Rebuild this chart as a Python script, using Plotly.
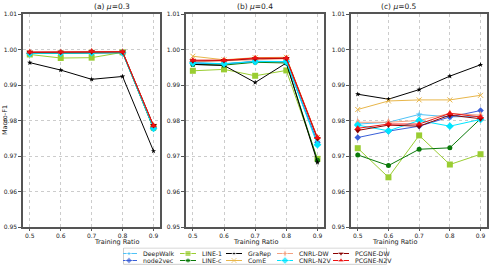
import plotly.graph_objects as go

ratios = [0.5, 0.6, 0.7, 0.8, 0.9]
methods = ["DeepWalk", "node2vec", "LINE-1", "LINE-c", "GraRep", "ComE",
           "CNRL-DW", "CNRL-N2V", "PCGNE-DW", "PCGNE-N2V"]

# panel (a) mu=0.3
mu03 = {
    "DeepWalk":  [0.9990, 0.9990, 0.9991, 0.9992, 0.9780],
    "node2vec":  [0.9989, 0.9989, 0.9990, 0.9991, 0.9779],
    "LINE-1":    [0.9986, 0.9976, 0.9977, 0.9992, 0.9781],
    "LINE-c":    [0.9989, 0.9990, 0.9991, 0.9991, 0.9777],
    "GraRep":    [0.9963, 0.9942, 0.9916, 0.9924, 0.9714],
    "ComE":      [0.9991, 0.9992, 0.9993, 0.9993, 0.9784],
    "CNRL-DW":   [0.9992, 0.9992, 0.9994, 0.9993, 0.9785],
    "CNRL-N2V":  [0.9989, 0.9990, 0.9991, 0.9991, 0.9778],
    "PCGNE-DW":  [0.9992, 0.9992, 0.9994, 0.9993, 0.9786],
    "PCGNE-N2V": [0.9993, 0.9993, 0.9995, 0.9994, 0.9785],
}
# panel (b) mu=0.4
mu04 = {
    "DeepWalk":  [0.9963, 0.9960, 0.9967, 0.9966, 0.9740],
    "node2vec":  [0.9962, 0.9959, 0.9966, 0.9965, 0.9738],
    "LINE-1":    [0.9940, 0.9944, 0.9926, 0.9941, 0.9692],
    "LINE-c":    [0.9958, 0.9956, 0.9964, 0.9962, 0.9688],
    "GraRep":    [0.9958, 0.9955, 0.9907, 0.9962, 0.9682],
    "ComE":      [0.9981, 0.9971, 0.9977, 0.9978, 0.9752],
    "CNRL-DW":   [0.9965, 0.9968, 0.9973, 0.9974, 0.9750],
    "CNRL-N2V":  [0.9962, 0.9960, 0.9966, 0.9966, 0.9732],
    "PCGNE-DW":  [0.9968, 0.9969, 0.9974, 0.9975, 0.9749],
    "PCGNE-N2V": [0.9970, 0.9970, 0.9976, 0.9976, 0.9752],
}
# panel (c) mu=0.5
mu05 = {
    "DeepWalk":  [0.9790, 0.9795, 0.9817, 0.9810, 0.9812],
    "node2vec":  [0.9752, 0.9770, 0.9784, 0.9810, 0.9828],
    "LINE-1":    [0.9722, 0.9640, 0.9758, 0.9676, 0.9705],
    "LINE-c":    [0.9703, 0.9673, 0.9719, 0.9723, 0.9805],
    "GraRep":    [0.9874, 0.9860, 0.9887, 0.9925, 0.9957],
    "ComE":      [0.9831, 0.9855, 0.9858, 0.9858, 0.9871],
    "CNRL-DW":   [0.9795, 0.9795, 0.9800, 0.9820, 0.9815],
    "CNRL-N2V":  [0.9787, 0.9771, 0.9800, 0.9784, 0.9803],
    "PCGNE-DW":  [0.9772, 0.9787, 0.9784, 0.9815, 0.9805],
    "PCGNE-N2V": [0.9778, 0.9790, 0.9790, 0.9820, 0.9810],
}
panels = [("(a) <i>μ</i>=0.3", mu03), ("(b) <i>μ</i>=0.4", mu04), ("(c) <i>μ</i>=0.5", mu05)]

styles = {
    "DeepWalk":  dict(color="#4fc3f7", symbol="star", size=5),
    "node2vec":  dict(color="#3a5fd8", symbol="diamond", size=5),
    "LINE-1":    dict(color="#9acd32", symbol="square", size=6),
    "LINE-c":    dict(color="#0a7a0a", symbol="circle", size=5),
    "GraRep":    dict(color="#000000", symbol="star", size=4),
    "ComE":      dict(color="#e8b64a", symbol="x-thin-open", size=5),
    "CNRL-DW":   dict(color="#f4a080", symbol="diamond-tall", size=6),
    "CNRL-N2V":  dict(color="#00e5ff", symbol="diamond", size=6),
    "PCGNE-DW":  dict(color="#8b0000", symbol="triangle-down", size=6),
    "PCGNE-N2V": dict(color="#ee1111", symbol="triangle-up", size=6),
}

W, H = 491, 265
xdoms = [(23 / W, 160 / W), (186 / W, 324 / W), (351 / W, 487 / W)]
ydom = (1 - 227 / H, 1 - 14 / H)


def marker_of(m, sizes=None):
    s = styles[m]
    mk = dict(color=s["color"], symbol=s["symbol"], size=sizes if sizes else s["size"])
    if s["symbol"].endswith("open"):
        mk["line"] = dict(color=s["color"], width=1)
    return mk


fig = go.Figure()
for i, (title, data) in enumerate(panels):
    xa = "x" if i == 0 else f"x{i+1}"
    ya = "y" if i == 0 else f"y{i+1}"
    for m in methods:
        s = styles[m]
        fig.add_trace(go.Scatter(
            x=ratios, y=data[m], mode="lines+markers", name=m,
            line=dict(color=s["color"], width=1), marker=marker_of(m),
            xaxis=xa, yaxis=ya, showlegend=False,
        ))

axis_common = dict(showline=True, mirror=True, linecolor="#555555", linewidth=1.5,
                   ticks="outside", tickcolor="#555555", automargin=False,
                   showgrid=True, gridcolor="#cccccc", griddash="dot", gridwidth=0.8,
                   tickfont=dict(size=6, color="#222222"), zeroline=False)
for i in range(3):
    k = "" if i == 0 else str(i + 1)
    fig.layout["xaxis" + k] = dict(
        domain=xdoms[i], range=[0.478, 0.921], tickvals=ratios, ticklen=2,
        ticktext=[str(r) for r in ratios], anchor="y" + k,
        **axis_common)
    fig.layout["yaxis" + k] = dict(
        domain=ydom, range=[0.95, 1.01], anchor="x" + k, ticklen=3,
        tickvals=[0.95, 0.96, 0.97, 0.98, 0.99, 1.00, 1.01],
        ticktext=["0.95", "0.96", "0.97", "0.98", "0.99", "1.00", "1.01"],
        **axis_common)
    xc = (xdoms[i][0] + xdoms[i][1]) / 2
    fig.add_annotation(text=panels[i][0], xref="paper", yref="paper",
                       x=xc, y=1 - 6.5 / H, yanchor="middle",
                       showarrow=False, font=dict(size=7.5, color="#222222"))
    fig.add_annotation(text="Training Ratio", xref="paper", yref="paper",
                       x=xc, y=1 - 241.5 / H, yanchor="middle", showarrow=False,
                       font=dict(size=6.5, color="#222222"))

fig.add_annotation(text="Macro-F1", xref="paper", yref="paper", x=4.5 / W,
                   y=(ydom[0] + ydom[1]) / 2, textangle=-90, showarrow=False,
                   xanchor="center", yanchor="middle",
                   font=dict(size=6.5, color="#222222"))

# legend drawn on a small pixel-scaled axis below the panels (5 columns x 2 rows)
legend_cols = [("DeepWalk", "node2vec"), ("LINE-1", "LINE-c"), ("GraRep", "ComE"),
               ("CNRL-DW", "CNRL-N2V"), ("PCGNE-DW", "PCGNE-N2V")]
col_x = [129, 188, 234, 285, 341]
row_y = [253.5, 260.5]
LX0, LX1, LY0, LY1 = 123, 387, 247.5, 265
fig.layout["xaxis4"] = dict(domain=[LX0 / W, LX1 / W], range=[LX0, LX1], visible=False,
                            fixedrange=True, anchor="y4", automargin=False)
fig.layout["yaxis4"] = dict(domain=[0, 1 - LY0 / H], range=[LY1, LY0], visible=False,
                            fixedrange=True, anchor="x4", automargin=False)
fig.add_shape(type="rect", xref="x4", yref="y4", x0=LX0 + 0.5, x1=LX1 - 0.5, y0=LY0 + 0.5,
              y1=LY1 - 0.7, line=dict(color="#cccccc", width=1), layer="below")
for cx, pair in zip(col_x, legend_cols):
    for ry, m in zip(row_y, pair):
        s = styles[m]
        fig.add_trace(go.Scatter(
            x=[cx - 8, cx, cx + 8], y=[ry, ry, ry], mode="lines+markers",
            line=dict(color=s["color"], width=1),
            marker=marker_of(m, [0, s["size"], 0]),
            xaxis="x4", yaxis="y4", showlegend=False, hoverinfo="skip",
            cliponaxis=False))
        fig.add_annotation(text=m, xref="x4", yref="y4", x=cx + 12, y=ry,
                           xanchor="left", yanchor="middle", showarrow=False,
                           font=dict(size=6.2, color="#222222"))

fig.update_layout(
    width=W, height=H, margin=dict(l=0, r=0, t=0, b=0, autoexpand=False),
    paper_bgcolor="white", plot_bgcolor="white",
    font=dict(family="DejaVu Sans"), showlegend=False,
)

fig.write_html("out.html")
